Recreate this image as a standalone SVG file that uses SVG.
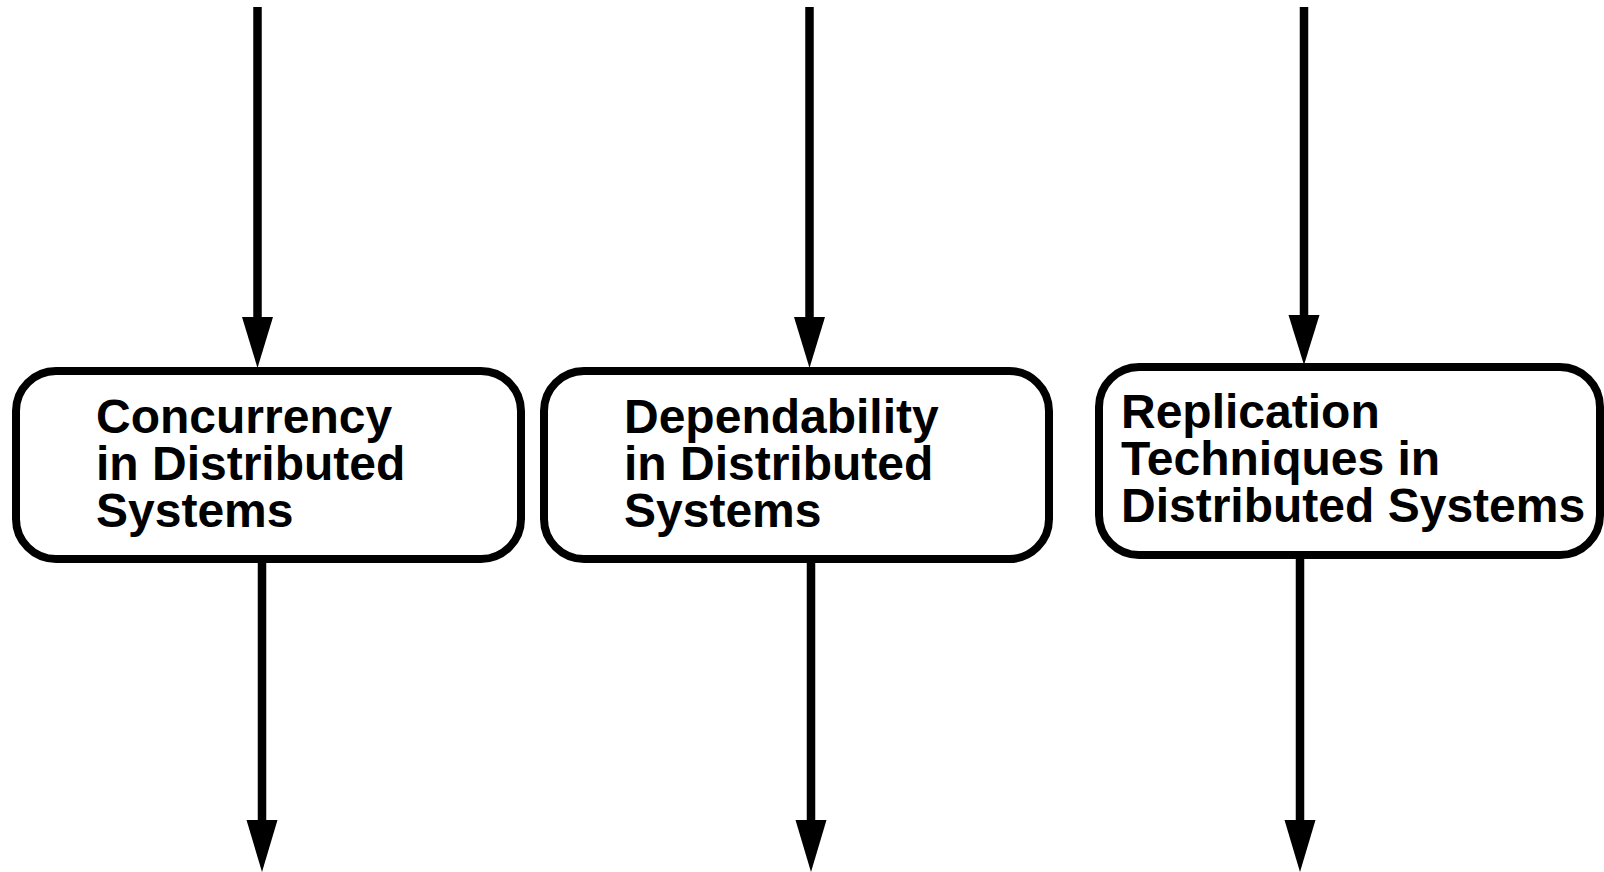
<svg xmlns="http://www.w3.org/2000/svg" width="1604" height="872" viewBox="0 0 1604 872">
<style>
.box{fill:#fff;stroke:#000;stroke-width:8}
.lbl{font-family:"Liberation Sans",Arial,Helvetica,sans-serif;font-weight:bold;font-size:48px;fill:#000}
.ln{stroke:#000;stroke-width:8.5;fill:none}
.hd{fill:#000;stroke:none}
</style>
<rect width="1604" height="872" fill="#fff"/>
<g id="connectors">
<line class="ln" x1="257.5" y1="7" x2="257.5" y2="322"/>
<polygon class="hd" points="242,317 273,317 257.5,368"/>
<line class="ln" x1="809.5" y1="7" x2="809.5" y2="322"/>
<polygon class="hd" points="794,317 825,317 809.5,368"/>
<line class="ln" x1="1304" y1="7" x2="1304" y2="320"/>
<polygon class="hd" points="1288.5,315 1319.5,315 1304,365"/>
<line class="ln" x1="262" y1="560" x2="262" y2="825"/>
<polygon class="hd" points="246.5,820 277.5,820 262,872"/>
<line class="ln" x1="811" y1="560" x2="811" y2="825"/>
<polygon class="hd" points="795.5,820 826.5,820 811,872"/>
<line class="ln" x1="1300" y1="556" x2="1300" y2="825"/>
<polygon class="hd" points="1284.5,820 1315.5,820 1300,872"/>
</g>
<g id="node-concurrency">
<rect class="box" x="16" y="371" width="505" height="188" rx="40" ry="40"/>
<text class="lbl" x="96" y="433">Concurrency</text>
<text class="lbl" x="96" y="480">in Distributed</text>
<text class="lbl" x="96" y="527">Systems</text>
</g>
<g id="node-dependability">
<rect class="box" x="544" y="371" width="505" height="188" rx="40" ry="40"/>
<text class="lbl" x="624" y="433">Dependability</text>
<text class="lbl" x="624" y="480">in Distributed</text>
<text class="lbl" x="624" y="527">Systems</text>
</g>
<g id="node-replication">
<rect class="box" x="1099" y="367" width="501" height="188" rx="40" ry="40"/>
<text class="lbl" x="1121" y="428">Replication</text>
<text class="lbl" x="1121" y="475">Techniques in</text>
<text class="lbl" x="1121" y="522">Distributed Systems</text>
</g>
</svg>
